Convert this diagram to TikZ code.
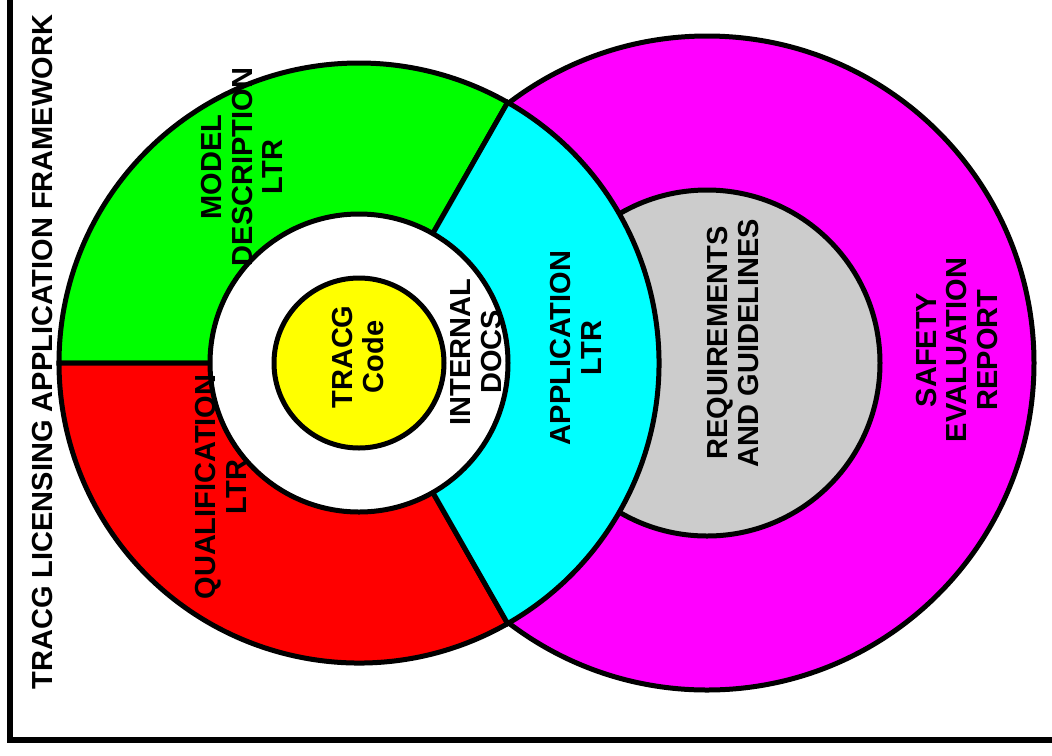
\documentclass[tikz,border=0pt]{standalone}
\usepackage{fontspec}
\setmainfont{Liberation Sans}
\definecolor{reqgray}{RGB}{204,204,204}
\definecolor{sergreen}{RGB}{0,255,0}
\definecolor{serred}{RGB}{255,0,0}
\definecolor{sercyan}{RGB}{0,255,255}
\definecolor{sermagenta}{RGB}{255,0,255}
\definecolor{seryellow}{RGB}{255,255,0}

\begin{document}
\begin{tikzpicture}[x=0.02cm,y=-0.02cm,every text node part/.style={align=center},
  ring/.style={draw=black,line width=0.1cm},
  lbl/.style={rotate=90,inner sep=0pt,font=\bfseries\fontsize{16.5}{17.5}\selectfont}]

\useasboundingbox (0,0) rectangle (1052,755);

\draw [line width=0.13cm] (10,-20) -- (10,740) -- (1080,740);

\coordinate (lc) at (359,363);
\coordinate (rc) at (707,363);

%%%%%%%%%%%%%%%%%%%%%%%%%%%%%%%%%%%%%%

\draw [ring,fill=sermagenta] (rc) circle (327);
\draw [ring,fill=reqgray] (rc) circle (173);

%%%%%%%%%%%%%%%%%%%%%%%%%%%%%%%%%%%%%%

\draw [ring,fill=sergreen] (lc) -- ++(180:300) arc [start angle=180,end angle=299.7,radius=300] -- cycle;
\draw [ring,fill=serred] (lc) -- ++(60.3:300) arc [start angle=60.3,end angle=180,radius=300] -- cycle;
\draw [ring,fill=sercyan] (lc) -- ++(-60.3:300) arc [start angle=-60.3,end angle=60.3,radius=300] -- cycle;

\draw [ring,fill=white] (lc) circle (149);
\draw [ring,fill=seryellow] (lc) circle (85);

%%%%%%%%%%%%%%%%%%%%%%%%%%%%%%%%%%%%%%

\node[lbl] (title) at (43,352) {TRACG LICENSING APPLICATION FRAMEWORK};
\node[lbl] (code) at (358,357) {TRACG\\Code};
\node[lbl] (docs) at (476,352) {INTERNAL\\DOCS};
\node[lbl] (model) at (242,167) {MODEL\\DESCRIPTION\\LTR};
\node[lbl] (qual) at (221,487) {QUALIFICATION\\LTR};
\node[lbl] (appl) at (576,348) {APPLICATION\\LTR};
\node[lbl] (reqs) at (733,343) {REQUIREMENTS\\AND GUIDELINES};
\node[lbl] (ser) at (957,350) {SAFETY\\EVALUATION\\REPORT};

\end{tikzpicture}
\end{document}
